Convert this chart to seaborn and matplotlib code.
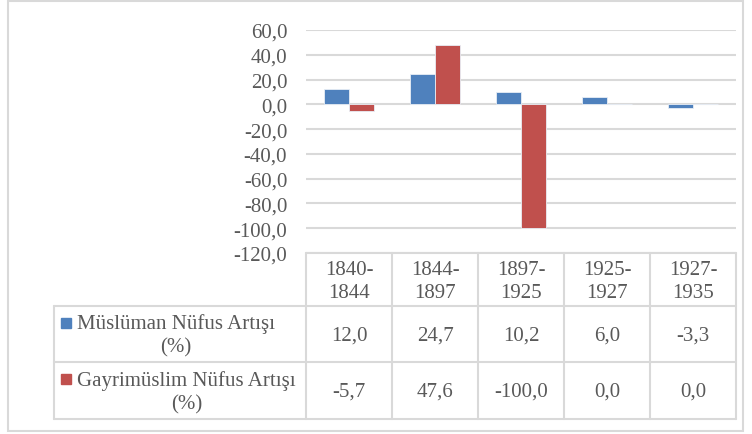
import pandas as pd
import seaborn as sns
from matplotlib import pyplot as plt
from matplotlib.patches import Rectangle
from matplotlib.lines import Line2D
from matplotlib.ticker import FuncFormatter

periods = ["1840-1844", "1844-1897", "1897-1925", "1925-1927", "1927-1935"]
muslim = [12.0, 24.7, 10.2, 6.0, -3.3]
nonmuslim = [-5.7, 47.6, -100.0, 0.0, 0.0]
series_names = ["Müslüman Nüfus Artışı (%)", "Gayrimüslim Nüfus Artışı (%)"]
colors = ["#4F81BD", "#C0504D"]
yticks = [60, 40, 20, 0, -20, -40, -60, -80, -100, -120]

df = pd.DataFrame({
    "period": periods * 2,
    "value": muslim + nonmuslim,
    "series": [series_names[0]] * len(periods) + [series_names[1]] * len(periods),
})

sns.set_style("white")
plt.rcParams["font.family"] = "serif"
plt.rcParams["font.serif"] = ["Liberation Serif", "DejaVu Serif"]
text_col = "#595959"
grid_col = "#D9D9D9"
fs = 15

W, H = 752, 435
fig = plt.figure(figsize=(W / 100, H / 100), dpi=100)

def fx(x):
    return x / W

def fy(y):
    return 1 - y / H

# chart area
left, right, top, bottom = 306, 736, 31, 254
ax = fig.add_axes([fx(left), fy(bottom), (right - left) / W, (bottom - top) / H])
sns.barplot(data=df, x="period", y="value", hue="series", palette=colors,
            saturation=1, width=0.58, edgecolor="#E8EEF6", linewidth=0.6,
            legend=False, ax=ax, zorder=3)
ax.set_ylim(-120, 60)
ax.set_yticks(yticks)
ax.yaxis.set_major_formatter(FuncFormatter(lambda v, p: f"{v:.1f}".replace(".", ",")))
ax.tick_params(axis="y", length=0, pad=13.5, labelsize=fs, labelcolor=text_col)
ax.set_xticks([])
ax.set_xlabel("")
ax.set_ylabel("")
ax.grid(axis="y", color=grid_col, linewidth=1.5, zorder=0)
ax.set_axisbelow(True)
for s in ax.spines.values():
    s.set_visible(False)

# outer chart border
fig.patches.append(Rectangle((fx(8), fy(432)), (743 - 8) / W, (432 - 2) / H,
                             transform=fig.transFigure, fill=False,
                             edgecolor=grid_col, linewidth=1.5))

# data table
col_edges = [306, 392, 478, 564, 650, 736]
row_edges = [254, 307, 363, 420]
lab_left = 54

def hline(x0, x1, y):
    fig.add_artist(Line2D([fx(x0), fx(x1)], [fy(y), fy(y)], color=grid_col,
                          linewidth=1.5, transform=fig.transFigure))

def vline(x, y0, y1):
    fig.add_artist(Line2D([fx(x), fx(x)], [fy(y0), fy(y1)], color=grid_col,
                          linewidth=1.5, transform=fig.transFigure))

hline(col_edges[0], col_edges[-1], row_edges[0])
for y in row_edges[1:]:
    hline(lab_left, col_edges[-1], y)
for x in col_edges:
    vline(x, row_edges[0], row_edges[-1])
vline(lab_left, row_edges[1], row_edges[-1])

# header cells
for i, p in enumerate(periods):
    cx = (col_edges[i] + col_edges[i + 1]) / 2
    a, b = p.split("-")
    fig.text(fx(cx), fy(271), a + "-", ha="center", va="center", fontsize=fs, color=text_col)
    fig.text(fx(cx), fy(294), b, ha="center", va="center", fontsize=fs, color=text_col)

# row labels and values
rows = [muslim, nonmuslim]
for r, vals in enumerate(rows):
    y0, y1 = row_edges[r + 1], row_edges[r + 2]
    cy = (y0 + y1) / 2
    name = series_names[r].replace(" (%)", "")
    fig.patches.append(Rectangle((fx(61), fy(y0 + 21.5)), 10 / W, 9.5 / H,
                                 transform=fig.transFigure, color=colors[r]))
    fig.text(fx(77), fy(cy + 1), name + "\n(%)", ha="left", va="center",
             multialignment="center", linespacing=1.32, fontsize=fs, color=text_col)
    for i, v in enumerate(vals):
        cx = (col_edges[i] + col_edges[i + 1]) / 2
        fig.text(fx(cx), fy(cy + 1), f"{v:.1f}".replace(".", ","), ha="center",
                 va="center", fontsize=fs, color=text_col)

fig.savefig("out.png", dpi=100)
